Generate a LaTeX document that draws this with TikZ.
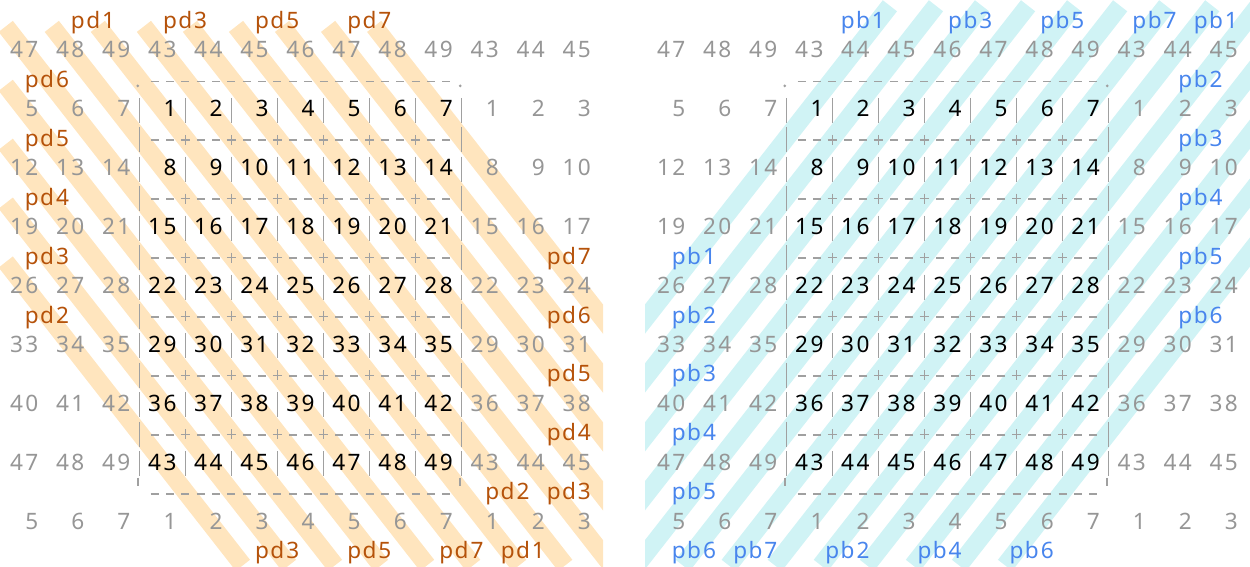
\documentclass[tikz,border=0pt]{standalone}
\usepackage{fontspec}
\setmainfont{Noto Sans}
\definecolor{numgray}{RGB}{150,150,150}
\definecolor{linegray}{RGB}{160,160,160}
\definecolor{pdtext}{RGB}{181,82,10}
\definecolor{pbtext}{RGB}{72,133,237}
\definecolor{pdbandc}{RGB}{255,229,190}
\definecolor{pbbandc}{RGB}{208,243,245}
\newlength\cw
\setlength\cw{7.675pt}
\makeatletter
\def\mn@loop#1{\ifx#1\relax\else\makebox[\cw][c]{#1}\expandafter\mn@loop\fi}
\newcommand\monotxt[1]{\edef\mn@tmp{#1}\expandafter\mn@loop\mn@tmp\relax}
\makeatother
\begin{document}
\begin{tikzpicture}[x=0.5pt,y=-0.5pt,
  txt/.style={inner sep=0pt, outer sep=0pt, anchor=base, font=\fontsize{11.3}{13}\selectfont},
  pdlab/.style={txt, text=pdtext},
  pblab/.style={txt, text=pbtext},
  pdstripe/.style={draw=pdbandc, line width=9pt, line cap=butt},
  pbstripe/.style={draw=pbbandc, line width=9pt, line cap=butt},
  gridline/.style={draw=linegray, line width=0.8pt, line cap=butt}]
\useasboundingbox (0,0) rectangle (1250,567);
% ---------- stripes, left panel (diagonals)
\begin{scope}
\clip (0,0) rectangle (603,567);
\foreach \d in {-3,...,9} {
  \pgfmathtruncatemacro\rf{max(-1,-1*(\d))}
  \pgfmathtruncatemacro\rl{min(7,12-(\d))}
  \pgfmathsetmacro\xa{16.5+15.35*(3*(\d+\rf)+0.5)-0.4*46.05}
  \pgfmathsetmacro\ya{20.5+29.45*(2*\rf+3)-0.4*58.9}
  \pgfmathsetmacro\xb{16.5+15.35*(3*(\d+\rl)+0.5)+0.75*46.05}
  \pgfmathsetmacro\yb{20.5+29.45*(2*\rl+3)+0.75*58.9}
  \draw[pdstripe] (\xa,\ya) -- (\xb,\yb);
}
\end{scope}
% ---------- stripes, right panel (anti-diagonals)
\begin{scope}
\clip (645,0) rectangle (1250,567);
\foreach \s in {3,...,15} {
  \pgfmathtruncatemacro\rmx{min(7,\s)}
  \pgfmathtruncatemacro\rmn{max(-1,\s-12)}
  \pgfmathsetmacro\xa{647+16.5+15.35*(3*(\s-\rmx)+0.5)-0.75*46.05}
  \pgfmathsetmacro\ya{20.5+29.45*(2*\rmx+3)+0.75*58.9}
  \pgfmathsetmacro\xb{647+16.5+15.35*(3*(\s-\rmn)+0.5)+0.75*46.05}
  \pgfmathsetmacro\yb{20.5+29.45*(2*\rmn+3)-0.75*58.9}
  \draw[pbstripe] (\xa,\ya) -- (\xb,\yb);
}
\end{scope}
% ---------- grid lines
\foreach \o in {0,647} {
  \foreach \v in {3,5,...,15} \foreach \i in {0,...,7}
    \draw[gridline] ({\o+139.3+46.05*\i},{20.5+29.45*\v-11}) -- ++(0,25);
  \foreach \v in {4,6,...,14} {
    \foreach \i in {0,7}
      \draw[gridline] ({\o+139.3+46.05*\i},{20.5+29.45*\v-11}) -- ++(0,25);
    \foreach \i in {1,...,6} {
      \draw[gridline] ({\o+139.3+46.05*\i-4.5},{20.5+29.45*\v+1.5}) -- ++(9,0);
      \draw[gridline] ({\o+139.3+46.05*\i},{20.5+29.45*\v-3.5}) -- ++(0,10);
    }
    \foreach \i in {0,...,6} \foreach \k in {1,2}
      \draw[gridline] ({\o+139.3+46.05*\i+15.35*\k-4},{20.5+29.45*\v+2}) -- ++(8,0);
  }
  \foreach \k in {1,...,20} {
    \draw[gridline] ({\o+139.3+15.35*\k-4},{20.5+29.45*2+2}) -- ++(8,0);
    \draw[gridline] ({\o+139.3+15.35*\k-4},{20.5+29.45*16+2}) -- ++(8,0);
  }
  \foreach \i in {0,7} {
    \fill[linegray] ({\o+139.3+46.05*\i-1.5},{20.5+29.45*2+6.5}) circle (0.75pt);
    \draw[gridline] ({\o+139.3+46.05*\i-1.5},{20.5+29.45*16-14}) -- ++(0,8);
  }
}
% ---------- numbers
\foreach \o/\pn in {0/L,647/R} {
  \foreach \r in {-1,...,7} {
    \foreach \j in {0,...,12} {
      \pgfmathtruncatemacro\val{7*mod(\r+7,7)+mod(\j+4,7)+1}
      \pgfmathtruncatemacro\inn{(\j>2)*(\j<10)*(\r>-1)*(\r<7)}
      \ifnum\inn=1 \def\col{black}\else\def\col{numgray}\fi
      \node[txt, text=\col] (\pn n\r x\j) at ({\o+16.5+15.35*(3*\j+0.5)},{20.5+29.45*(2*\r+3)+8})
        {\makebox[2\cw][r]{\monotxt{\val}}};
    }
  }
}
% ---------- labels
\foreach \u/\v/\t [count=\k] in {5/0/pd1,11/0/pd3,17/0/pd5,23/0/pd7,
    2/2/pd6,2/4/pd5,2/6/pd4,2/8/pd3,2/10/pd2,
    36/8/pd7,36/10/pd6,36/12/pd5,36/14/pd4,32/16/pd2,36/16/pd3,
    17/18/pd3,23/18/pd5,29/18/pd7,33/18/pd1}
  \node[pdlab] (pd\k) at ({16.5+15.35*\u},{20.5+29.45*\v+8}) {\monotxt{\t}};
\foreach \u/\v/\t [count=\k] in {13/0/pb1,20/0/pb3,26/0/pb5,32/0/pb7,36/0/pb1,
    35/2/pb2,35/4/pb3,35/6/pb4,35/8/pb5,35/10/pb6,
    2/8/pb1,2/10/pb2,2/12/pb3,2/14/pb4,2/16/pb5,
    2/18/pb6,6/18/pb7,12/18/pb2,18/18/pb4,24/18/pb6}
  \node[pblab] (pb\k) at ({647+16.5+15.35*\u},{20.5+29.45*\v+8}) {\monotxt{\t}};
\end{tikzpicture}
\end{document}
